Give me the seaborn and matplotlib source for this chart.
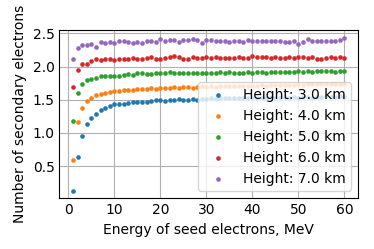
import numpy as np
import pandas as pd
import matplotlib
matplotlib.use("Agg")
import matplotlib.pyplot as plt
import seaborn as sns

# Seed electron energies, MeV
energy = list(range(1, 61))

heights = ["3.0", "4.0", "5.0", "6.0", "7.0"]

# Mean number of secondary electrons per seed electron
n_3km = [0.13, 0.63, 0.95, 1.13, 1.23, 1.29, 1.34, 1.38, 1.41, 1.43,
         1.44, 1.44, 1.45, 1.46, 1.46, 1.47, 1.47, 1.48, 1.49, 1.50,
         1.48, 1.50, 1.49, 1.51, 1.50, 1.50, 1.51, 1.50, 1.51, 1.51,
         1.52, 1.51, 1.52, 1.52, 1.53, 1.52, 1.52, 1.53, 1.52, 1.53,
         1.53, 1.52, 1.53, 1.54, 1.53, 1.53, 1.54, 1.53, 1.54, 1.53,
         1.54, 1.54, 1.53, 1.54, 1.54, 1.55, 1.54, 1.54, 1.55, 1.54]
n_4km = [0.59, 1.16, 1.38, 1.48, 1.53, 1.57, 1.585, 1.60, 1.62, 1.63,
         1.63, 1.645, 1.65, 1.65, 1.655, 1.66, 1.655, 1.67, 1.665, 1.68,
         1.67, 1.68, 1.685, 1.675, 1.69, 1.69, 1.68, 1.695, 1.70, 1.69,
         1.70, 1.695, 1.70, 1.705, 1.70, 1.71, 1.70, 1.705, 1.71, 1.705,
         1.71, 1.715, 1.71, 1.715, 1.72, 1.715, 1.72, 1.725, 1.72, 1.73,
         1.725, 1.73, 1.735, 1.73, 1.73, 1.735, 1.73, 1.735, 1.73, 1.735]
n_5km = [1.18, 1.60, 1.73, 1.79, 1.815, 1.825, 1.85, 1.85, 1.85, 1.85,
         1.86, 1.865, 1.88, 1.875, 1.895, 1.895, 1.885, 1.885, 1.895, 1.895,
         1.905, 1.915, 1.91, 1.90, 1.895, 1.90, 1.905, 1.90, 1.91, 1.905,
         1.91, 1.905, 1.915, 1.905, 1.92, 1.91, 1.91, 1.91, 1.915, 1.91,
         1.915, 1.92, 1.91, 1.915, 1.92, 1.915, 1.92, 1.915, 1.925, 1.93,
         1.925, 1.93, 1.925, 1.93, 1.935, 1.93, 1.93, 1.925, 1.93, 1.93]
n_6km = [1.69, 1.955, 2.045, 2.04, 2.085, 2.12, 2.105, 2.11, 2.11, 2.105,
         2.115, 2.115, 2.11, 2.13, 2.12, 2.12, 2.13, 2.145, 2.11, 2.12,
         2.13, 2.14, 2.155, 2.14, 2.12, 2.12, 2.14, 2.13, 2.135, 2.14,
         2.13, 2.14, 2.13, 2.135, 2.13, 2.125, 2.14, 2.13, 2.125, 2.16,
         2.15, 2.14, 2.145, 2.13, 2.14, 2.13, 2.135, 2.15, 2.13, 2.14,
         2.145, 2.13, 2.14, 2.115, 2.12, 2.135, 2.14, 2.135, 2.14, 2.135]
n_7km = [2.115, 2.285, 2.32, 2.32, 2.335, 2.30, 2.37, 2.355, 2.375, 2.355,
         2.385, 2.385, 2.375, 2.36, 2.365, 2.355, 2.385, 2.39, 2.37, 2.41,
         2.38, 2.40, 2.40, 2.375, 2.40, 2.395, 2.41, 2.395, 2.36, 2.40,
         2.40, 2.39, 2.38, 2.39, 2.37, 2.385, 2.39, 2.375, 2.40, 2.385,
         2.38, 2.385, 2.38, 2.38, 2.38, 2.38, 2.375, 2.37, 2.38, 2.345,
         2.37, 2.415, 2.385, 2.39, 2.385, 2.38, 2.38, 2.39, 2.395, 2.43]

series = [n_3km, n_4km, n_5km, n_6km, n_7km]
colors = sns.color_palette("tab10")[:5]

fig, ax = plt.subplots(figsize=(3.74, 2.49), dpi=100)
fig.subplots_adjust(left=0.159, right=0.957, top=0.878, bottom=0.204)

for h, vals, c in zip(heights, series, colors):
    df = pd.DataFrame({"energy": energy, "n": vals})
    sns.scatterplot(data=df, x="energy", y="n", color=c, s=11, linewidth=0,
                    label=f"Height: {h} km", ax=ax)

# grid behind the dots, no tick marks
ax.grid(True, color="#b0b0b0", linewidth=0.8)
ax.set_axisbelow(True)
ax.tick_params(length=0)
ax.set_xticks([0, 10, 20, 30, 40, 50, 60])
ax.set_yticks([0.5, 1.0, 1.5, 2.0, 2.5])
ax.set_xlabel("Energy of seed electrons, MeV")
ax.set_ylabel("Number of secondary electrons")
ax.legend(loc="lower right")

plt.savefig("out.png", dpi=100)
plt.close()
